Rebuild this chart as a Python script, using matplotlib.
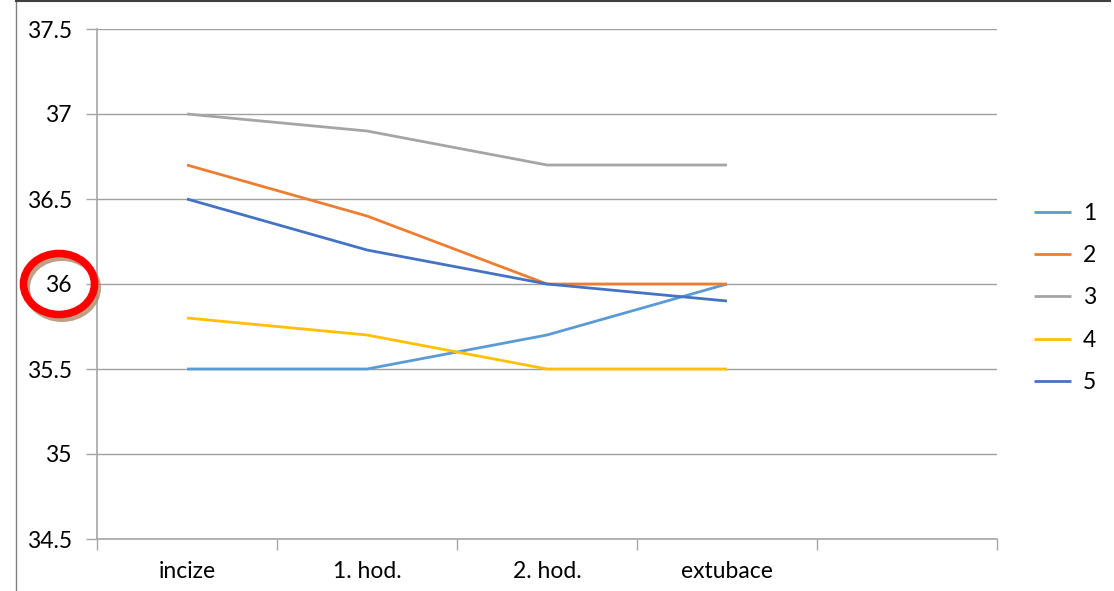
import matplotlib
matplotlib.use("Agg")
import matplotlib.pyplot as plt
from matplotlib.patches import Ellipse
from matplotlib.lines import Line2D

plt.rcParams['font.family'] = ['Lato', 'DejaVu Sans']

# data
categories = ['incize', '1. hod.', '2. hod.', 'extubace']
series_names = ['1', '2', '3', '4', '5']
s1 = [35.5, 35.5, 35.7, 36.0]
s2 = [36.7, 36.4, 36.0, 36.0]
s3 = [37.0, 36.9, 36.7, 36.7]
s4 = [35.8, 35.7, 35.5, 35.5]
s5 = [36.5, 36.2, 36.0, 35.9]
colors = ['#5B9BD5', '#ED7D31', '#A5A5A5', '#FFC000', '#4472C4']

W, H = 1114, 591
fs = 16.5
fig = plt.figure(figsize=(W / 100, H / 100), dpi=100)
ax = fig.add_axes([97 / W, (H - 539) / H, (997 - 97) / W, (539 - 29) / H])

x = list(range(len(categories)))
for vals, name, c in zip([s1, s2, s3, s4, s5], series_names, colors):
    ax.plot(x, vals, color=c, lw=2.0, label=name, solid_capstyle='butt')

ax.set_xlim(-0.5, 4.5)
ax.set_ylim(34.5, 37.5)
yt = [34.5, 35, 35.5, 36, 36.5, 37, 37.5]
ax.set_yticks(yt)
ax.set_yticklabels(['34.5', '35', '35.5', '36', '36.5', '37', '37.5'])
ax.set_xticks(x)
ax.set_xticklabels(categories)
ax.set_xticks([i - 0.5 for i in range(6)], minor=True)
ax.tick_params(axis='x', which='major', length=0, pad=16, labelsize=fs)
ax.tick_params(axis='x', which='minor', length=8, color='#A6A6A6', width=1)
ax.tick_params(axis='y', length=8, color='#A6A6A6', width=1, pad=10, labelsize=fs)
ax.grid(axis='y', color='#A0A0A0', lw=1)
ax.set_axisbelow(True)
for s in ['top', 'right']:
    ax.spines[s].set_visible(False)
for s in ['left', 'bottom']:
    ax.spines[s].set_color('#A6A6A6')
    ax.spines[s].set_linewidth(1.2)

fig.legend(loc='center left', bbox_to_anchor=(1013 / W, (H - 298) / H),
           frameon=False, fontsize=fs, handlelength=1.64, handletextpad=0.5,
           labelspacing=0.93)

# highlight around the 36 label
cx, cy = 59 / W, (H - 284) / H
fig.add_artist(Ellipse((cx + 3 / W, cy - 4 / H), 71 / W, 61 / H, fill=False,
                       ec='#B08868', lw=5, alpha=0.8))
fig.add_artist(Ellipse((cx, cy), 71 / W, 61 / H, fill=False, ec='#FF0000', lw=5.5))

# frame edges
fig.add_artist(Line2D([16 / W, 16 / W], [0, 1], color='#808080', lw=1))
fig.add_artist(Line2D([16 / W, 1110 / W], [1 - 1 / H, 1 - 1 / H], color='#404040', lw=1.5))

fig.savefig('out.png', dpi=100)
